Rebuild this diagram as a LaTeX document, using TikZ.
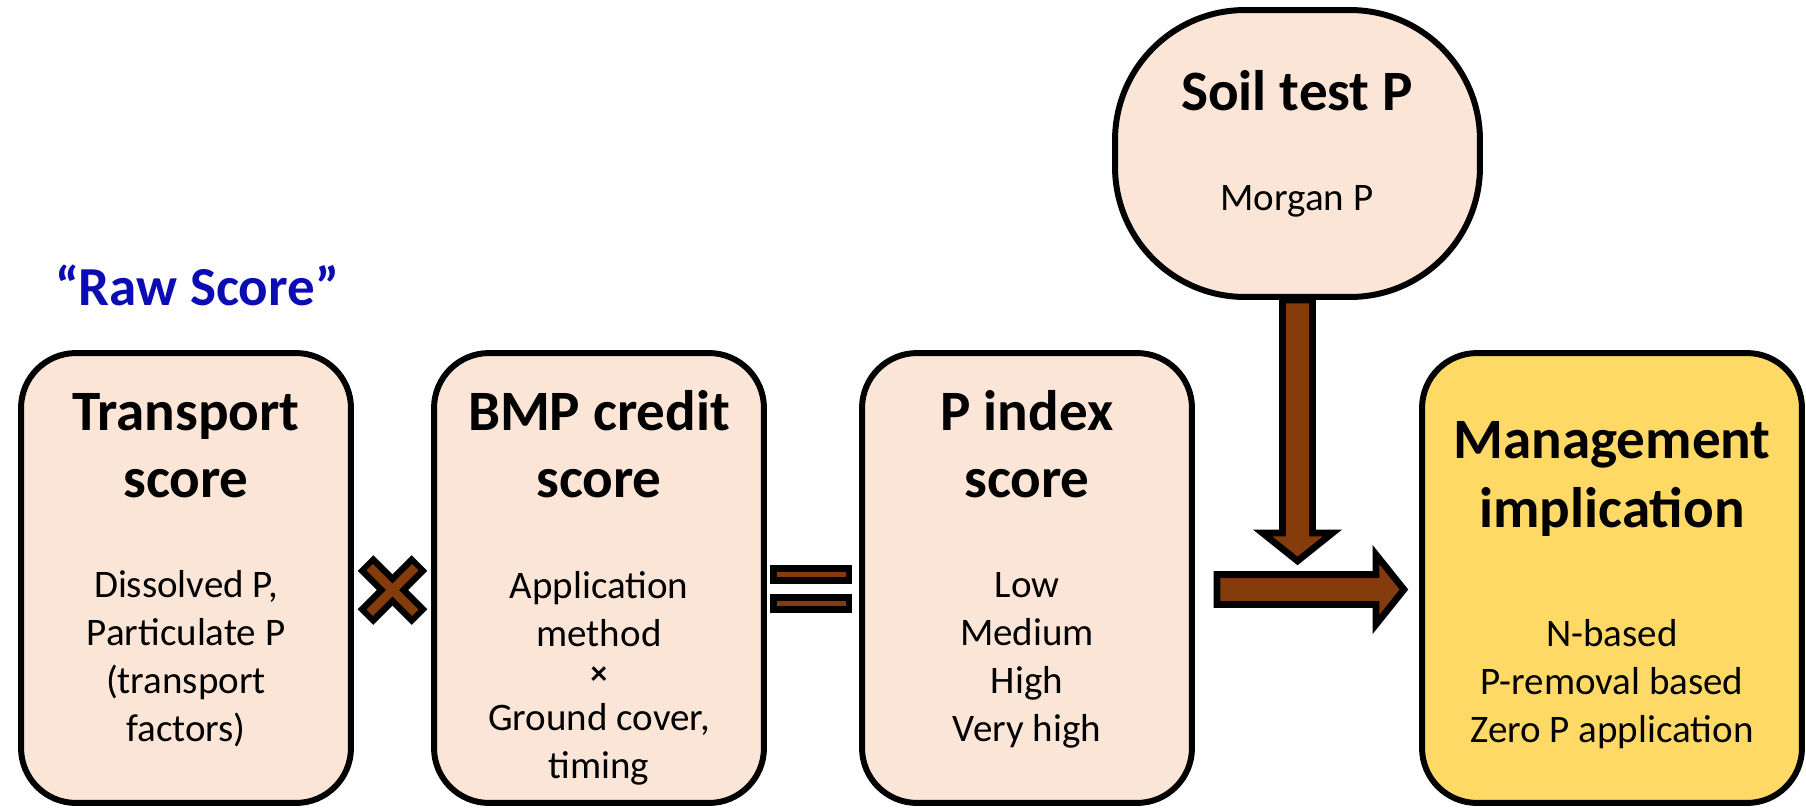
\documentclass[tikz,border=0pt]{standalone}
\usepackage{fontspec}
\setmainfont{Carlito}
\usetikzlibrary{calc}
\definecolor{peach}{HTML}{FBE5D6}
\definecolor{gold}{HTML}{FFD966}
\definecolor{soilbrown}{HTML}{843C0C}
\definecolor{rawblue}{HTML}{0C0CB4}
\tikzset{
  scorebox/.style={draw, line width=3.4pt, rounded corners=1.1cm, fill=peach, minimum width=6.6cm, minimum height=9cm, inner sep=0pt},
  headtext/.style={font=\bfseries\fontsize{32.5pt}{38.1pt}\selectfont, align=center, anchor=base, inner sep=0pt},
  bodytext/.style={font=\fontsize{22.2pt}{27.3pt}\selectfont, align=center, anchor=base, inner sep=0pt},
  blockarrow/.style={draw, line width=3.8pt, fill=soilbrown, line join=miter},
}
\begin{document}
\begin{tikzpicture}[x=0.02cm, y=-0.02cm]
\useasboundingbox (0,0) rectangle (1806,809);

\node(transport)[scorebox] at (186,578) {};
\node(bmp)[scorebox] at (599,578) {};
\node(pindex)[scorebox] at (1027,578) {};
\node(manage)[scorebox, fill=gold, minimum width=7.6cm] at (1612,578) {};
\node(soil)[draw, line width=3.4pt, fill=peach, rounded corners=2.6cm, minimum width=7.3cm, minimum height=5.74cm] at (1297.5,153.5) {};

\node(raw)[headtext, text=rawblue, font=\bfseries\fontsize{31.3pt}{38pt}\selectfont] at (197,305) {“Raw Score”};

\node(transporthead)[headtext] at (186,497) {Transport\\score};
\node(transportbody)[bodytext] at (186,741) {Dissolved P,\\Particulate P\\(transport\\factors)};
\node(bmphead)[headtext] at (599,497) {BMP credit\\score};
\node(bmpbody)[bodytext] at (599,778) {Application\\method\\[-0.2cm]{\bfseries\fontsize{19pt}{19pt}\selectfont ×}\\[-0.04cm]Ground cover,\\timing};
\node(pindexhead)[headtext] at (1027,497) {P index\\score};
\node(pindexbody)[bodytext] at (1027,741) {Low\\Medium\\High\\Very high};
\node(managehead)[headtext] at (1612,527) {Management\\[0.04cm]implication};
\node(managebody)[bodytext] at (1612,742) {N-based\\P-removal based\\Zero P application};
\node(soilhead)[headtext] at (1297,110) {Soil test P};
\node(soilbody)[bodytext] at (1297,210) {Morgan P};

\coordinate(times) at ($(transport.east)!0.5!(bmp.west)+(0,12)$);
\draw[line width=12.5pt] ($(times)+(-27,-27)$) -- ($(times)+(27,27)$);
\draw[line width=12.5pt] ($(times)+(-27,27)$) -- ($(times)+(27,-27)$);
\draw[soilbrown, line width=5.1pt] ($(times)+(-22.8,-22.8)$) -- ($(times)+(22.8,22.8)$);
\draw[soilbrown, line width=5.1pt] ($(times)+(-22.8,22.8)$) -- ($(times)+(22.8,-22.8)$);

\coordinate(equals) at ($(bmp.east)!0.5!(pindex.west)+(-2,11)$);
\draw[line width=11.1pt] ($(equals)+(-41,-14.3)$) -- ($(equals)+(41,-14.3)$);
\draw[line width=11.1pt] ($(equals)+(-41,14.3)$) -- ($(equals)+(41,14.3)$);
\draw[soilbrown, line width=3.1pt] ($(equals)+(-34.5,-14.3)$) -- ($(equals)+(34.5,-14.3)$);
\draw[soilbrown, line width=3.1pt] ($(equals)+(-34.5,14.3)$) -- ($(equals)+(34.5,14.3)$);

\draw[blockarrow] (soil.south) ++(-15,0) -- ++(0,233) -- ++(-20,0) -- ++(35,28) -- ++(35,-28) -- ++(-20,0) -- ++(0,-233) -- cycle;

\coordinate(rtail) at ($(pindex.east)+(22,11.5)$);
\draw[blockarrow] (rtail) ++(0,-15) -- ++(159,0) -- ++(0,-20) -- ++(28,35) -- ++(-28,35) -- ++(0,-20) -- ++(-159,0) -- cycle;
\end{tikzpicture}
\end{document}
